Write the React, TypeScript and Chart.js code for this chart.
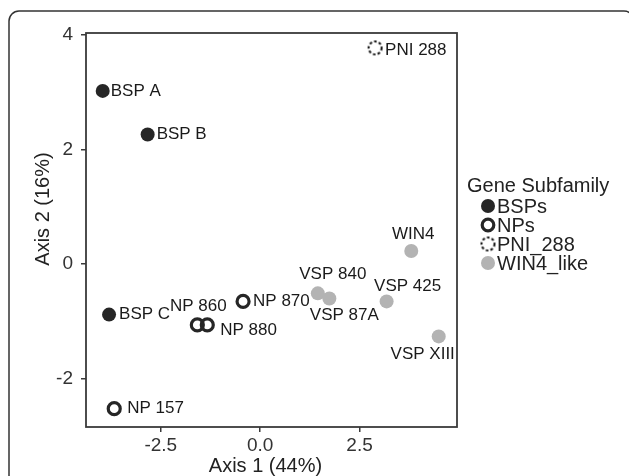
import React, { useEffect, useRef } from "react";
import { Chart, registerables } from "chart.js";

Chart.register(...registerables);

// ---- data ----
const bspNames = ["BSP A", "BSP B", "BSP C"];
const bspX = [-3.96, -2.83, -3.8];
const bspY = [3.02, 2.26, -0.88];

const npNames = ["NP 860", "NP 880", "NP 870", "NP 157"];
const npX = [-1.58, -1.33, -0.43, -3.67];
const npY = [-1.06, -1.06, -0.65, -2.52];

const pniNames = ["PNI 288"];
const pniX = [2.89];
const pniY = [3.77];

const winNames = ["WIN4", "VSP 840", "VSP 87A", "VSP 425", "VSP XIII"];
const winX = [3.8, 1.45, 1.74, 3.18, 4.49];
const winY = [0.23, -0.51, -0.6, -0.65, -1.26];

const legendTitle = "Gene Subfamily";
const groupNames = ["BSPs", "NPs", "PNI_288", "WIN4_like"];
const xTicks = [-2.5, 0, 2.5];
const yTicks = [-2, 0, 2, 4];
const xTitle = "Axis 1 (44%)";
const yTitle = "Axis 2 (16%)";

// label placement (pixel offsets from point, style only)
const labelPlacement: Record<string, [number, number, CanvasTextAlign]> = {
  "BSP A": [8, 0, "left"],
  "BSP B": [9, 0, "left"],
  "BSP C": [10, 0, "left"],
  "NP 860": [1, -19, "center"],
  "NP 880": [13, 5, "left"],
  "NP 870": [10, 0, "left"],
  "NP 157": [13, 0, "left"],
  "PNI 288": [10, 2, "left"],
  WIN4: [2, -17, "center"],
  "VSP 840": [15, -19, "center"],
  "VSP 87A": [15, 17, "center"],
  "VSP 425": [21, -15, "center"],
  "VSP XIII": [-16, 18, "center"],
};

const FONT = "'Liberation Sans', Arial, Helvetica, sans-serif";
const DARK = "#262626";
const GRAY = "#b3b3b3";
const LINE = "#3a3a3a";

function makeDashedCircle(r: number): HTMLCanvasElement {
  const c = document.createElement("canvas");
  const s = Math.ceil(2 * r + 4);
  c.width = s;
  c.height = s;
  const g = c.getContext("2d")!;
  g.strokeStyle = "#111";
  g.lineWidth = 2;
  g.setLineDash([2.6, 2.2]);
  g.beginPath();
  g.arc(s / 2, s / 2, r, 0, Math.PI * 2);
  g.stroke();
  return c;
}

export default function App() {
  const ref = useRef<HTMLCanvasElement | null>(null);

  useEffect(() => {
    document.body.style.margin = "0";
    const canvas = ref.current!;
    const dashed = makeDashedCircle(6.5);
    const allNames = [bspNames, npNames, pniNames, winNames];

    const decor = {
      id: "decor",
      beforeDraw(chart: any) {
        const ctx = chart.ctx;
        ctx.save();
        ctx.fillStyle = "#ffffff";
        ctx.fillRect(0, 0, chart.width, chart.height);
        // outer rounded frame
        ctx.strokeStyle = "#333333";
        ctx.lineWidth = 1.5;
        const x = 9, y = 11, w = 625, h = 500, r = 10;
        ctx.beginPath();
        ctx.moveTo(x + r, y);
        ctx.lineTo(x + w - r, y);
        ctx.arcTo(x + w, y, x + w, y + r, r);
        ctx.lineTo(x + w, y + h);
        ctx.lineTo(x, y + h);
        ctx.lineTo(x, y + r);
        ctx.arcTo(x, y, x + r, y, r);
        ctx.stroke();
        ctx.restore();
      },
      afterDraw(chart: any) {
        const ctx = chart.ctx;
        const a = chart.chartArea;
        ctx.save();
        // panel border
        ctx.strokeStyle = LINE;
        ctx.lineWidth = 1.8;
        ctx.strokeRect(a.left, a.top, a.right - a.left, a.bottom - a.top);
        // point labels
        ctx.fillStyle = "#1a1a1a";
        ctx.font = `17px ${FONT}`;
        ctx.textBaseline = "middle";
        chart.data.datasets.forEach((ds: any, di: number) => {
          const meta = chart.getDatasetMeta(di);
          meta.data.forEach((pt: any, i: number) => {
            const name = allNames[di][i];
            const p = labelPlacement[name] || [9, 0, "left"];
            ctx.textAlign = p[2];
            ctx.fillText(name, pt.x + p[0], pt.y + p[1]);
          });
        });
        // axis titles
        ctx.font = `20px ${FONT}`;
        ctx.fillStyle = "#222";
        ctx.textAlign = "center";
        ctx.fillText(xTitle, (a.left + a.right) / 2 - 6, 466);
        ctx.save();
        ctx.translate(43, 209);
        ctx.rotate(-Math.PI / 2);
        ctx.fillText(yTitle, 0, 0);
        ctx.restore();
        // legend
        ctx.textAlign = "left";
        ctx.fillText(legendTitle, a.right + 10, 186);
        const ys = [206, 225, 244, 263];
        const sx = a.right + 31;
        groupNames.forEach((g, i) => {
          const yy = ys[i];
          if (i === 0 || i === 3) {
            ctx.fillStyle = i === 0 ? DARK : GRAY;
            ctx.beginPath();
            ctx.arc(sx, yy, 7, 0, Math.PI * 2);
            ctx.fill();
          } else if (i === 1) {
            ctx.strokeStyle = DARK;
            ctx.lineWidth = 3.2;
            ctx.beginPath();
            ctx.arc(sx, yy, 5.8, 0, Math.PI * 2);
            ctx.stroke();
          } else {
            ctx.drawImage(dashed, sx - dashed.width / 2, yy - dashed.height / 2);
          }
          ctx.fillStyle = "#222";
          ctx.fillText(g, sx + 9, yy + 1);
        });
        ctx.restore();
      },
    };

    const toPts = (xs: number[], ys: number[]) => xs.map((x, i) => ({ x, y: ys[i] }));

    const chart = new Chart(canvas, {
      type: "scatter",
      data: {
        datasets: [
          {
            label: groupNames[0],
            data: toPts(bspX, bspY),
            pointStyle: "circle",
            pointRadius: 7,
            backgroundColor: DARK,
            borderWidth: 0,
          },
          {
            label: groupNames[1],
            data: toPts(npX, npY),
            pointStyle: "circle",
            pointRadius: 6,
            backgroundColor: "rgba(255,255,255,0)",
            borderColor: DARK,
            borderWidth: 3.2,
          },
          {
            label: groupNames[2],
            data: toPts(pniX, pniY),
            pointStyle: dashed as any,
            pointRadius: 7,
          },
          {
            label: groupNames[3],
            data: toPts(winX, winY),
            pointStyle: "circle",
            pointRadius: 7,
            backgroundColor: GRAY,
            borderWidth: 0,
          },
        ],
      },
      options: {
        animation: false,
        responsive: false,
        events: [],
        layout: { padding: { left: 0, top: 33, right: 629 - 457, bottom: 0 } },
        plugins: { legend: { display: false }, tooltip: { enabled: false } },
        scales: {
          x: {
            type: "linear",
            min: -4.38,
            max: 4.95,
            afterFit: (s: any) => {
              s.height = 476 - 427;
            },
            afterBuildTicks: (s: any) => {
              s.ticks = xTicks.map((v) => ({ value: v }));
            },
            grid: { drawOnChartArea: false, drawTicks: true, tickLength: 5, color: LINE, lineWidth: 1.5 },
            border: { display: false },
            ticks: {
              font: { family: FONT, size: 19 },
              color: "#333",
              padding: 2,
              maxRotation: 0,
              callback: (v: any) => Number(v).toFixed(1),
            },
          },
          y: {
            type: "linear",
            min: -2.84,
            max: 4.03,
            afterFit: (s: any) => {
              s.width = 86;
            },
            afterBuildTicks: (s: any) => {
              s.ticks = yTicks.map((v) => ({ value: v }));
            },
            grid: { drawOnChartArea: false, drawTicks: true, tickLength: 5, color: LINE, lineWidth: 1.5 },
            border: { display: false },
            ticks: {
              font: { family: FONT, size: 19 },
              color: "#333",
              padding: 8,
              callback: (v: any) => String(v),
            },
          },
        },
      },
      plugins: [decor],
    });
    return () => chart.destroy();
  }, []);

  return <canvas ref={ref} width={629} height={476} style={{ display: "block" }} />;
}
